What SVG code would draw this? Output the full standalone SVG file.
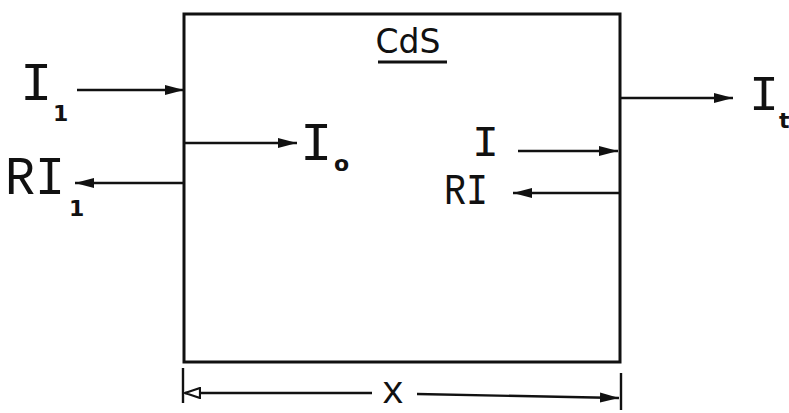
<svg xmlns="http://www.w3.org/2000/svg" width="789" height="413" viewBox="0 0 789 413">
<defs>
<style>
.ln{stroke:#111;stroke-width:2.4;fill:none}
.box{stroke:#111;stroke-width:3;fill:#fff}
.lbl{font-family:"Liberation Mono","DejaVu Sans Mono",monospace;fill:#111}
.sub{font-family:"DejaVu Sans",sans-serif;font-size:22px;font-weight:bold;fill:#111}
</style>
<marker id="ah" viewBox="0 0 19 11" refX="19" refY="5.5" markerWidth="19" markerHeight="11" markerUnits="userSpaceOnUse" orient="auto">
<path d="M0,0.5 L19,5.5 L0,10.5 z" fill="#111"/>
</marker>
<marker id="ao" viewBox="0 0 17 12" refX="16" refY="6" markerWidth="17" markerHeight="12" markerUnits="userSpaceOnUse" orient="auto">
<path d="M1,1 L16,6 L1,11 z" fill="#fff" stroke="#111" stroke-width="2.2"/>
</marker>
</defs>
<rect width="789" height="413" fill="#fff"/>
<g id="cds-block">
<rect class="box" x="184" y="14" width="436" height="348"/>
<text x="408" y="53" font-family="'DejaVu Sans',sans-serif" font-size="33" text-anchor="middle" fill="#111">CdS</text>
<line x1="378" y1="62" x2="447" y2="62" stroke="#111" stroke-width="3"/>
</g>
<g id="label-I1">
<text class="lbl" x="20" y="100" font-size="54">I</text>
<text class="sub" x="53" y="121">1</text>
</g>
<g id="label-RI1">
<text class="lbl" x="5" y="194" font-size="54" textLength="60" lengthAdjust="spacingAndGlyphs">RI</text>
<text class="sub" x="69" y="216">1</text>
</g>
<g id="label-I0">
<text class="lbl" x="300" y="160" font-size="54">I</text>
<text class="sub" x="334" y="171">o</text>
</g>
<g id="label-It">
<text class="lbl" x="749" y="110" font-size="50">I</text>
<text class="sub" x="779" y="128">t</text>
</g>
<g id="label-I">
<text class="lbl" x="472" y="156" font-size="45">I</text>
</g>
<g id="label-RI">
<text class="lbl" x="444" y="204" font-size="44" textLength="44" lengthAdjust="spacingAndGlyphs">RI</text>
</g>
<g id="label-x">
<text class="lbl" x="393" y="403" font-size="38" text-anchor="middle">x</text>
</g>
<g id="connectors">
<line class="ln" x1="77" y1="90" x2="184" y2="90" marker-end="url(#ah)"/>
<line class="ln" x1="184" y1="183" x2="75" y2="183" marker-end="url(#ah)"/>
<line class="ln" x1="184" y1="143" x2="297" y2="143" marker-end="url(#ah)"/>
<line class="ln" x1="620" y1="98" x2="733" y2="98" marker-end="url(#ah)"/>
<line class="ln" x1="518" y1="151" x2="618" y2="151" marker-end="url(#ah)"/>
<line class="ln" x1="620" y1="193" x2="513" y2="193" marker-end="url(#ah)"/>
<line class="ln" x1="183" y1="368" x2="183" y2="403"/>
<line class="ln" x1="621" y1="373" x2="621" y2="410"/>
<line class="ln" x1="372" y1="393" x2="185" y2="393" marker-end="url(#ao)"/>
<line class="ln" x1="417" y1="394" x2="619" y2="398" marker-end="url(#ah)"/>
</g>
</svg>
